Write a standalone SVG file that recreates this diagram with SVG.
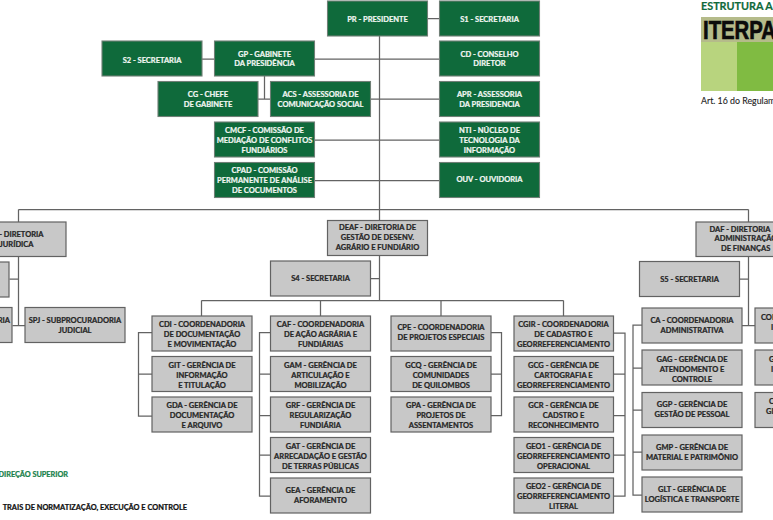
<svg xmlns="http://www.w3.org/2000/svg" width="773" height="520" viewBox="0 0 773 520">
<style>
text{font-family:"Lato","Open Sans","Liberation Sans",sans-serif;font-weight:700;font-size:7.5px;text-anchor:middle}
.dk rect{fill:#0f6a3b;stroke:#6f7f76;stroke-width:1.1}
.dk text{fill:#f2f7f3;stroke:#f2f7f3;stroke-width:.22}
.lt rect{fill:#c8c8c8;stroke:#626262;stroke-width:1.2}
.lt text{fill:#262626;stroke:#262626;stroke-width:.24}
#connectors path{fill:none;stroke:#636363;stroke-width:1.25}
.st{text-anchor:start}
.en{text-anchor:end}
</style>
<rect width="773" height="520" fill="#ffffff"/>
<g id="connectors">
<path d="M379.5 36V301M427 18.5H439.5M314 59H439.5M370.5 99H439.5M314 140H439.5M314 180.5H439.5M202 59H214.5M264.5 76V99M258 99H270.5"/>
<path d="M18.5 209.5H748.5M18.5 209.5V325.5M748.5 209.5V222M9.5 279H18.5M12.5 325.5H25"/>
<path d="M370.5 278.5H379.5M201.5 300.5H563.5M201.5 300.5V316M320.5 300.5V316M441 300.5V316M563.5 300.5V316"/>
<path d="M152 332.5H138.5V416H152M138.5 374H152"/>
<path d="M270.5 332.5H259.5V496H270.5M259.5 374H270.5M259.5 415.5H270.5M259.5 455H270.5"/>
<path d="M491 332.5H501.5V415.5H491M491 374H501.5"/>
<path d="M613.5 333H625V496H613.5M613.5 374H625M613.5 415.5H625M613.5 455H625"/>
<path d="M748.5 256.5V325.5M739 279H748.5M742 325.5H755"/>
<path d="M642 325H633V495H642M633 368H642M633 410H642M633 452H642"/>
</g>
<g id="header">
<text class="st" x="701" y="9.5" style="font-size:10.8px;fill:#0f6a3b;stroke:#0f6a3b;stroke-width:.2">ESTRUTURA AD</text>
<rect x="701" y="17" width="72" height="74" fill="#b8d47e"/>
<rect x="737" y="42" width="36" height="49" fill="#80bb42"/>
<rect x="701" y="17" width="72" height="25" fill="#b5bb8a"/>
<text class="st" x="703" y="38.5" textLength="73" lengthAdjust="spacingAndGlyphs" style="font-family:'Liberation Sans',sans-serif;font-size:26px;fill:#0b0b0b;stroke:#0b0b0b;stroke-width:.7">ITERPA</text>
<text class="st" x="701" y="104" style="font-size:8.8px;font-weight:400;fill:#222;stroke:#222;stroke-width:.1">Art. 16 do Regulamento</text>
</g>
<g class="dk">
<g id="PR"><rect x="327.5" y="1" width="100" height="35"/><text x="377.5" y="21.5">PR - PRESIDENTE</text></g>
<g id="S1"><rect x="439.5" y="1" width="100" height="35"/><text x="489.5" y="21.5">S1 - SECRETARIA</text></g>
<g id="CD"><rect x="439.5" y="41" width="100" height="35"/><text x="489.5" y="56.5">CD - CONSELHO</text><text x="489.5" y="66">DIRETOR</text></g>
<g id="APR"><rect x="439.5" y="81.5" width="100" height="35"/><text x="489.5" y="97">APR - ASSESSORIA</text><text x="489.5" y="107">DA PRESIDENCIA</text></g>
<g id="NTI"><rect x="439.5" y="122" width="100" height="35"/><text x="489.5" y="133">NTI - NÚCLEO DE</text><text x="489.5" y="143">TECNOLOGIA DA</text><text x="489.5" y="153">INFORMAÇÃO</text></g>
<g id="OUV"><rect x="439.5" y="162.5" width="100" height="35"/><text x="489.5" y="182">OUV - OUVIDORIA</text></g>
<g id="S2"><rect x="102" y="41" width="100" height="35"/><text x="152" y="62.5">S2 - SECRETARIA</text></g>
<g id="GP"><rect x="214.5" y="41" width="100" height="35"/><text x="264.5" y="56.5">GP - GABINETE</text><text x="264.5" y="66">DA PRESIDÊNCIA</text></g>
<g id="CG"><rect x="158" y="81.5" width="100" height="35"/><text x="208" y="97">CG - CHEFE</text><text x="208" y="107">DE GABINETE</text></g>
<g id="ACS"><rect x="270.5" y="81.5" width="100" height="35"/><text x="320.5" y="97">ACS - ASSESSORIA DE</text><text x="320.5" y="107">COMUNICAÇÃO SOCIAL</text></g>
<g id="CMCF"><rect x="214.5" y="122" width="100" height="35"/><text x="264.5" y="133">CMCF - COMISSÃO DE</text><text x="264.5" y="143">MEDIAÇÃO DE CONFLITOS</text><text x="264.5" y="153">FUNDIÁRIOS</text></g>
<g id="CPAD"><rect x="214.5" y="162.5" width="100" height="35"/><text x="264.5" y="173">CPAD - COMISSÃO</text><text x="264.5" y="183">PERMANENTE DE ANÁLISE</text><text x="264.5" y="193">DE COCUMENTOS</text></g>
</g>
<g class="lt">
<g id="DJ"><rect x="-34" y="222" width="100" height="34.5"/><text class="en" x="43.5" y="237">- DIRETORIA</text><text class="en" x="33.5" y="247">JURÍDICA</text></g>
<g id="S3"><rect x="-91" y="262" width="100" height="35"/></g>
<g id="SP"><rect x="-88" y="307.5" width="100" height="35"/><text class="en" x="10" y="323">RIA</text></g>
<g id="SPJ"><rect x="25" y="307.5" width="100" height="35"/><text x="75" y="323">SPJ - SUBPROCURADORIA</text><text x="75" y="333">JUDICIAL</text></g>
<g id="DEAF"><rect x="327.5" y="220.5" width="100" height="35"/><text x="377.5" y="230">DEAF - DIRETORIA DE</text><text x="377.5" y="240">GESTÃO DE DESENV.</text><text x="377.5" y="250">AGRÁRIO E FUNDIÁRIO</text></g>
<g id="S4"><rect x="270.5" y="261" width="100" height="35"/><text x="320.5" y="281">S4 - SECRETARIA</text></g>
<g id="CDI"><rect x="152" y="316" width="100" height="35"/><text x="202" y="327">CDI - COORDENADORIA</text><text x="202" y="337">DE DOCUMENTAÇÃO</text><text x="202" y="347">E MOVIMENTAÇÃO</text></g>
<g id="GIT"><rect x="152" y="356.5" width="100" height="35"/><text x="202" y="368">GIT - GERÊNCIA DE</text><text x="202" y="378">INFORMAÇÃO</text><text x="202" y="388">E TITULAÇÃO</text></g>
<g id="GDA"><rect x="152" y="397" width="100" height="35"/><text x="202" y="408">GDA - GERÊNCIA DE</text><text x="202" y="418">DOCUMENTAÇÃO</text><text x="202" y="428">E ARQUIVO</text></g>
<g id="CAF"><rect x="270.5" y="316" width="100" height="35"/><text x="320.5" y="327">CAF - COORDENADORIA</text><text x="320.5" y="337">DE AÇÃO AGRÁRIA E</text><text x="320.5" y="347">FUNDIÁRIAS</text></g>
<g id="GAM"><rect x="270.5" y="356.5" width="100" height="35"/><text x="320.5" y="368">GAM - GERÊNCIA DE</text><text x="320.5" y="378">ARTICULAÇÃO E</text><text x="320.5" y="388">MOBILIZAÇÃO</text></g>
<g id="GRF"><rect x="270.5" y="397" width="100" height="35"/><text x="320.5" y="408">GRF - GERÊNCIA DE</text><text x="320.5" y="418">REGULARIZAÇÃO</text><text x="320.5" y="428">FUNDIÁRIA</text></g>
<g id="GAT"><rect x="270.5" y="437.5" width="100" height="35"/><text x="320.5" y="449">GAT - GERÊNCIA DE</text><text x="320.5" y="459">ARRECADAÇÃO E GESTÃO</text><text x="320.5" y="469">DE TERRAS PÚBLICAS</text></g>
<g id="GEA"><rect x="270.5" y="478" width="100" height="35"/><text x="320.5" y="493">GEA - GERÊNCIA DE</text><text x="320.5" y="503">AFORAMENTO</text></g>
<g id="CPE"><rect x="391" y="316" width="100" height="35"/><text x="441" y="330">CPE - COORDENADORIA</text><text x="441" y="340">DE PROJETOS ESPECIAIS</text></g>
<g id="GCQ"><rect x="391" y="356.5" width="100" height="35"/><text x="441" y="368">GCQ - GERÊNCIA DE</text><text x="441" y="378">COMUNIDADES</text><text x="441" y="388">DE QUILOMBOS</text></g>
<g id="GPA"><rect x="391" y="397" width="100" height="35"/><text x="441" y="408">GPA - GERÊNCIA DE</text><text x="441" y="418">PROJETOS  DE</text><text x="441" y="428">ASSENTAMENTOS</text></g>
<g id="CGIR"><rect x="514" y="316" width="99.5" height="35"/><text x="563.5" y="327">CGIR - COORDENADORIA</text><text x="563.5" y="337">DE CADASTRO E</text><text x="563.5" y="347">GEORREFERENCIAMENTO</text></g>
<g id="GCG"><rect x="514" y="356.5" width="99.5" height="35"/><text x="563.5" y="368">GCG - GERÊNCIA DE</text><text x="563.5" y="378">CARTOGRAFIA E</text><text x="563.5" y="388">GEORREFERENCIAMENTO</text></g>
<g id="GCR"><rect x="514" y="397" width="99.5" height="35"/><text x="563.5" y="408">GCR - GERÊNCIA DE</text><text x="563.5" y="418">CADSTRO E</text><text x="563.5" y="428">RECONHECIMENTO</text></g>
<g id="GEO1"><rect x="514" y="437.5" width="99.5" height="35"/><text x="563.5" y="449">GEO1 - GERÊNCIA DE</text><text x="563.5" y="459">GEORREFERENCIAMENTO</text><text x="563.5" y="469">OPERACIONAL</text></g>
<g id="GEO2"><rect x="514" y="478" width="99.5" height="35"/><text x="563.5" y="489">GEO2 - GERÊNCIA DE</text><text x="563.5" y="499">GEORREFERENCIAMENTO</text><text x="563.5" y="509">LITERAL</text></g>
<g id="DAF"><rect x="696" y="222" width="100" height="34.5"/><text class="st" x="709.5" y="231.5">DAF - DIRETORIA</text><text class="st" x="714.5" y="241">ADMINISTRAÇÃO</text><text class="st" x="721" y="250.5">DE FINANÇAS</text></g>
<g id="S5"><rect x="639.5" y="261.5" width="100" height="35"/><text x="689.5" y="282">S5 - SECRETARIA</text></g>
<g id="CA"><rect x="642" y="308" width="100" height="35"/><text x="692" y="323">CA - COORDENADORIA</text><text x="692" y="333">ADMINISTRATIVA</text></g>
<g id="GAG"><rect x="642" y="350" width="100" height="35"/><text x="692" y="361.5">GAG - GERÊNCIA DE</text><text x="692" y="371.5">ATENDOMENTO E</text><text x="692" y="381.5">CONTROLE</text></g>
<g id="GGP"><rect x="642" y="392.5" width="100" height="35"/><text x="692" y="407">GGP - GERÊNCIA DE</text><text x="692" y="417">GESTÃO DE PESSOAL</text></g>
<g id="GMP"><rect x="642" y="435" width="100" height="35"/><text x="692" y="450">GMP - GERÊNCIA DE</text><text x="692" y="460">MATERIAL E PATRIMÔNIO</text></g>
<g id="GLT"><rect x="642" y="477" width="100" height="35"/><text x="692" y="492">GLT - GERÊNCIA DE</text><text x="692" y="502">LOGÍSTICA E TRANSPORTE</text></g>
<g id="COR"><rect x="755" y="308" width="100" height="35"/><text class="st" x="761" y="319.5">COR</text><text class="st" x="771" y="329.5">I</text></g>
<g id="G2"><rect x="755" y="350" width="100" height="35"/><text class="st" x="769" y="361.5">G</text><text class="st" x="771" y="371.5">I</text></g>
<g id="G3"><rect x="755" y="392.5" width="100" height="35"/><text class="st" x="769" y="403.5">C</text><text class="st" x="766" y="413.5">GI</text></g>
</g>
<g id="legend">
<text class="en" x="68" y="477" style="font-size:7.3px;fill:#17804a;stroke:#17804a;stroke-width:.24">DIREÇÃO SUPERIOR</text>
<text class="en" x="187" y="510" style="font-size:7.4px;fill:#111;stroke:#111;stroke-width:.24">TRAIS DE NORMATIZAÇÃO, EXECUÇÃO E CONTROLE</text>
</g>
</svg>
